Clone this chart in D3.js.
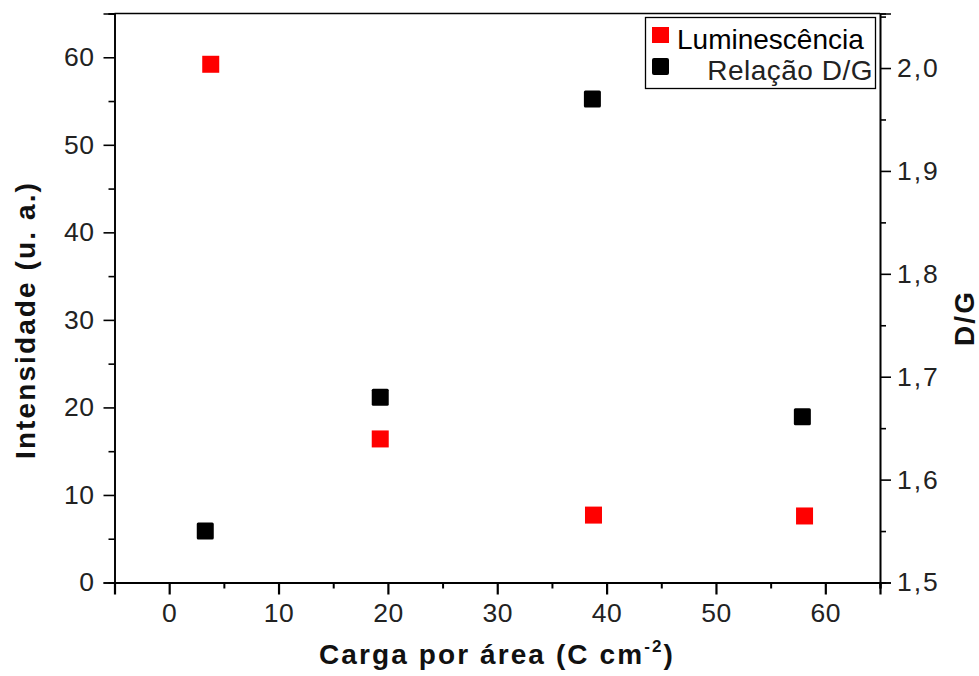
<!DOCTYPE html>
<html><head><meta charset="utf-8">
<script src="https://cdn.jsdelivr.net/npm/d3@7"></script>
<style>body{margin:0;background:#fff}svg{display:block}text{font-family:"Liberation Sans",Arial,sans-serif}</style>
</head><body><svg id="c" width="979" height="676"></svg>
<script>
const carga = [3.8, 19.3, 38.8, 58.1];
const luminescencia = [59.2, 16.4, 7.7, 7.6];
const cargaDG = [3.3, 19.3, 38.7, 57.9];
const relacaoDG = [1.550, 1.680, 1.970, 1.661];
const xTicks = [0, 10, 20, 30, 40, 50, 60];
const yTicks = [0, 10, 20, 30, 40, 50, 60];
const y2Ticks = [1.5, 1.6, 1.7, 1.8, 1.9, 2.0];

const svg = d3.select("#c");
const L = 114.5, R = 880, T = 13.5, B = 582.5;
const x = d3.scaleLinear().domain([-5, 65]).range([L, R]);
const y = d3.scaleLinear().domain([0, 65]).range([B, T]);
const y2 = d3.scaleLinear().domain([1.5, 2.053]).range([B, T]);

svg.append("line").attr("x1", L).attr("x2", R).attr("y1", T).attr("y2", T).attr("stroke", "#000").attr("stroke-width", 1.5);

function styleAxis(g, sw) {
  g.select(".domain").attr("stroke", "#000").attr("stroke-width", sw);
  g.selectAll(".tick line").attr("stroke", "#000").attr("stroke-width", sw);
  g.selectAll(".tick text").attr("fill", "#222").style("font-size", "26.5px").style("font-family", '"Liberation Sans", Arial, sans-serif').style("letter-spacing", "0.5px");
}

const xMinor = d3.range(-5, 66, 10);
const yMinor = d3.range(5, 66, 10);
const y2Minor = d3.range(1.55, 2.06, 0.1);

const gxm = svg.append("g").attr("transform", `translate(0,${B})`).call(d3.axisBottom(x).tickValues(xMinor).tickSize(6).tickFormat(""));
styleAxis(gxm, 2);
const gx = svg.append("g").attr("transform", `translate(0,${B})`).call(d3.axisBottom(x).tickValues(xTicks).tickSize(12).tickPadding(9).tickFormat(d3.format("d")));
styleAxis(gx, 2.2);
gx.selectAll(".tick text").attr("dy", "0.71em");

const gym = svg.append("g").attr("transform", `translate(${L},0)`).call(d3.axisLeft(y).tickValues(yMinor).tickSize(6).tickFormat(""));
styleAxis(gym, 1.6);
const gy = svg.append("g").attr("transform", `translate(${L},0)`).call(d3.axisLeft(y).tickValues(yTicks).tickSize(11).tickPadding(9).tickFormat(d3.format("d")));
styleAxis(gy, 1.6);

const gy2m = svg.append("g").attr("transform", `translate(${R},0)`).call(d3.axisRight(y2).tickValues(y2Minor).tickSize(6).tickFormat(""));
styleAxis(gy2m, 1.6);
const gy2 = svg.append("g").attr("transform", `translate(${R},0)`).call(d3.axisRight(y2).tickValues(y2Ticks).tickSize(11).tickPadding(6).tickFormat(d => d.toFixed(1).replace(".", ",")));
styleAxis(gy2, 1.6);
gy2.selectAll(".tick text").style("letter-spacing", "2px");

const ms = 17;
svg.append("g").selectAll("rect").data(carga.map((c, i) => [c, luminescencia[i]])).join("rect")
  .attr("x", d => x(d[0]) - ms / 2).attr("y", d => y(d[1]) - ms / 2)
  .attr("width", ms).attr("height", ms).attr("fill", "#ff0000");
svg.append("g").selectAll("rect").data(cargaDG.map((c, i) => [c, relacaoDG[i]])).join("rect")
  .attr("x", d => x(d[0]) - ms / 2).attr("y", d => y2(d[1]) - ms / 2)
  .attr("width", ms).attr("height", ms).attr("rx", 1.5).attr("fill", "#000");

const lg = svg.append("g");
lg.append("rect").attr("x", 645.5).attr("y", 17.5).attr("width", 230).attr("height", 71).attr("fill", "#fff").attr("stroke", "#000").attr("stroke-width", 1.3);
lg.append("rect").attr("x", 652).attr("y", 27).attr("width", 17).attr("height", 16).attr("fill", "#ff0000");
lg.append("rect").attr("x", 652).attr("y", 58).attr("width", 17).attr("height", 17).attr("rx", 2).attr("fill", "#000");
lg.append("text").attr("x", 677).attr("y", 49).text("Luminescência").style("font-size", "28px").attr("fill", "#000");
lg.append("text").attr("x", 873).attr("y", 80).attr("text-anchor", "end").text("Relação D/G").style("font-size", "28px").style("letter-spacing", "0.5px").attr("fill", "#222");

const titleStyle = t => t.style("font-size", "28px").style("font-weight", "bold").style("letter-spacing", "2.1px").attr("fill", "#111");
const xt = svg.append("text").attr("x", 497).attr("y", 664).attr("text-anchor", "middle").call(titleStyle);
xt.append("tspan").text("Carga por área (C cm");
xt.append("tspan").attr("dy", -12).style("font-size", "17px").text("-2");
xt.append("tspan").attr("dy", 12).text(")");

svg.append("text").attr("transform", "translate(35,320) rotate(-90)").attr("text-anchor", "middle")
  .call(titleStyle).text("Intensidade (u. a.)");
svg.append("text").attr("transform", "translate(974,318) rotate(-90)").attr("text-anchor", "middle")
  .call(titleStyle).text("D/G");
</script></body></html>
